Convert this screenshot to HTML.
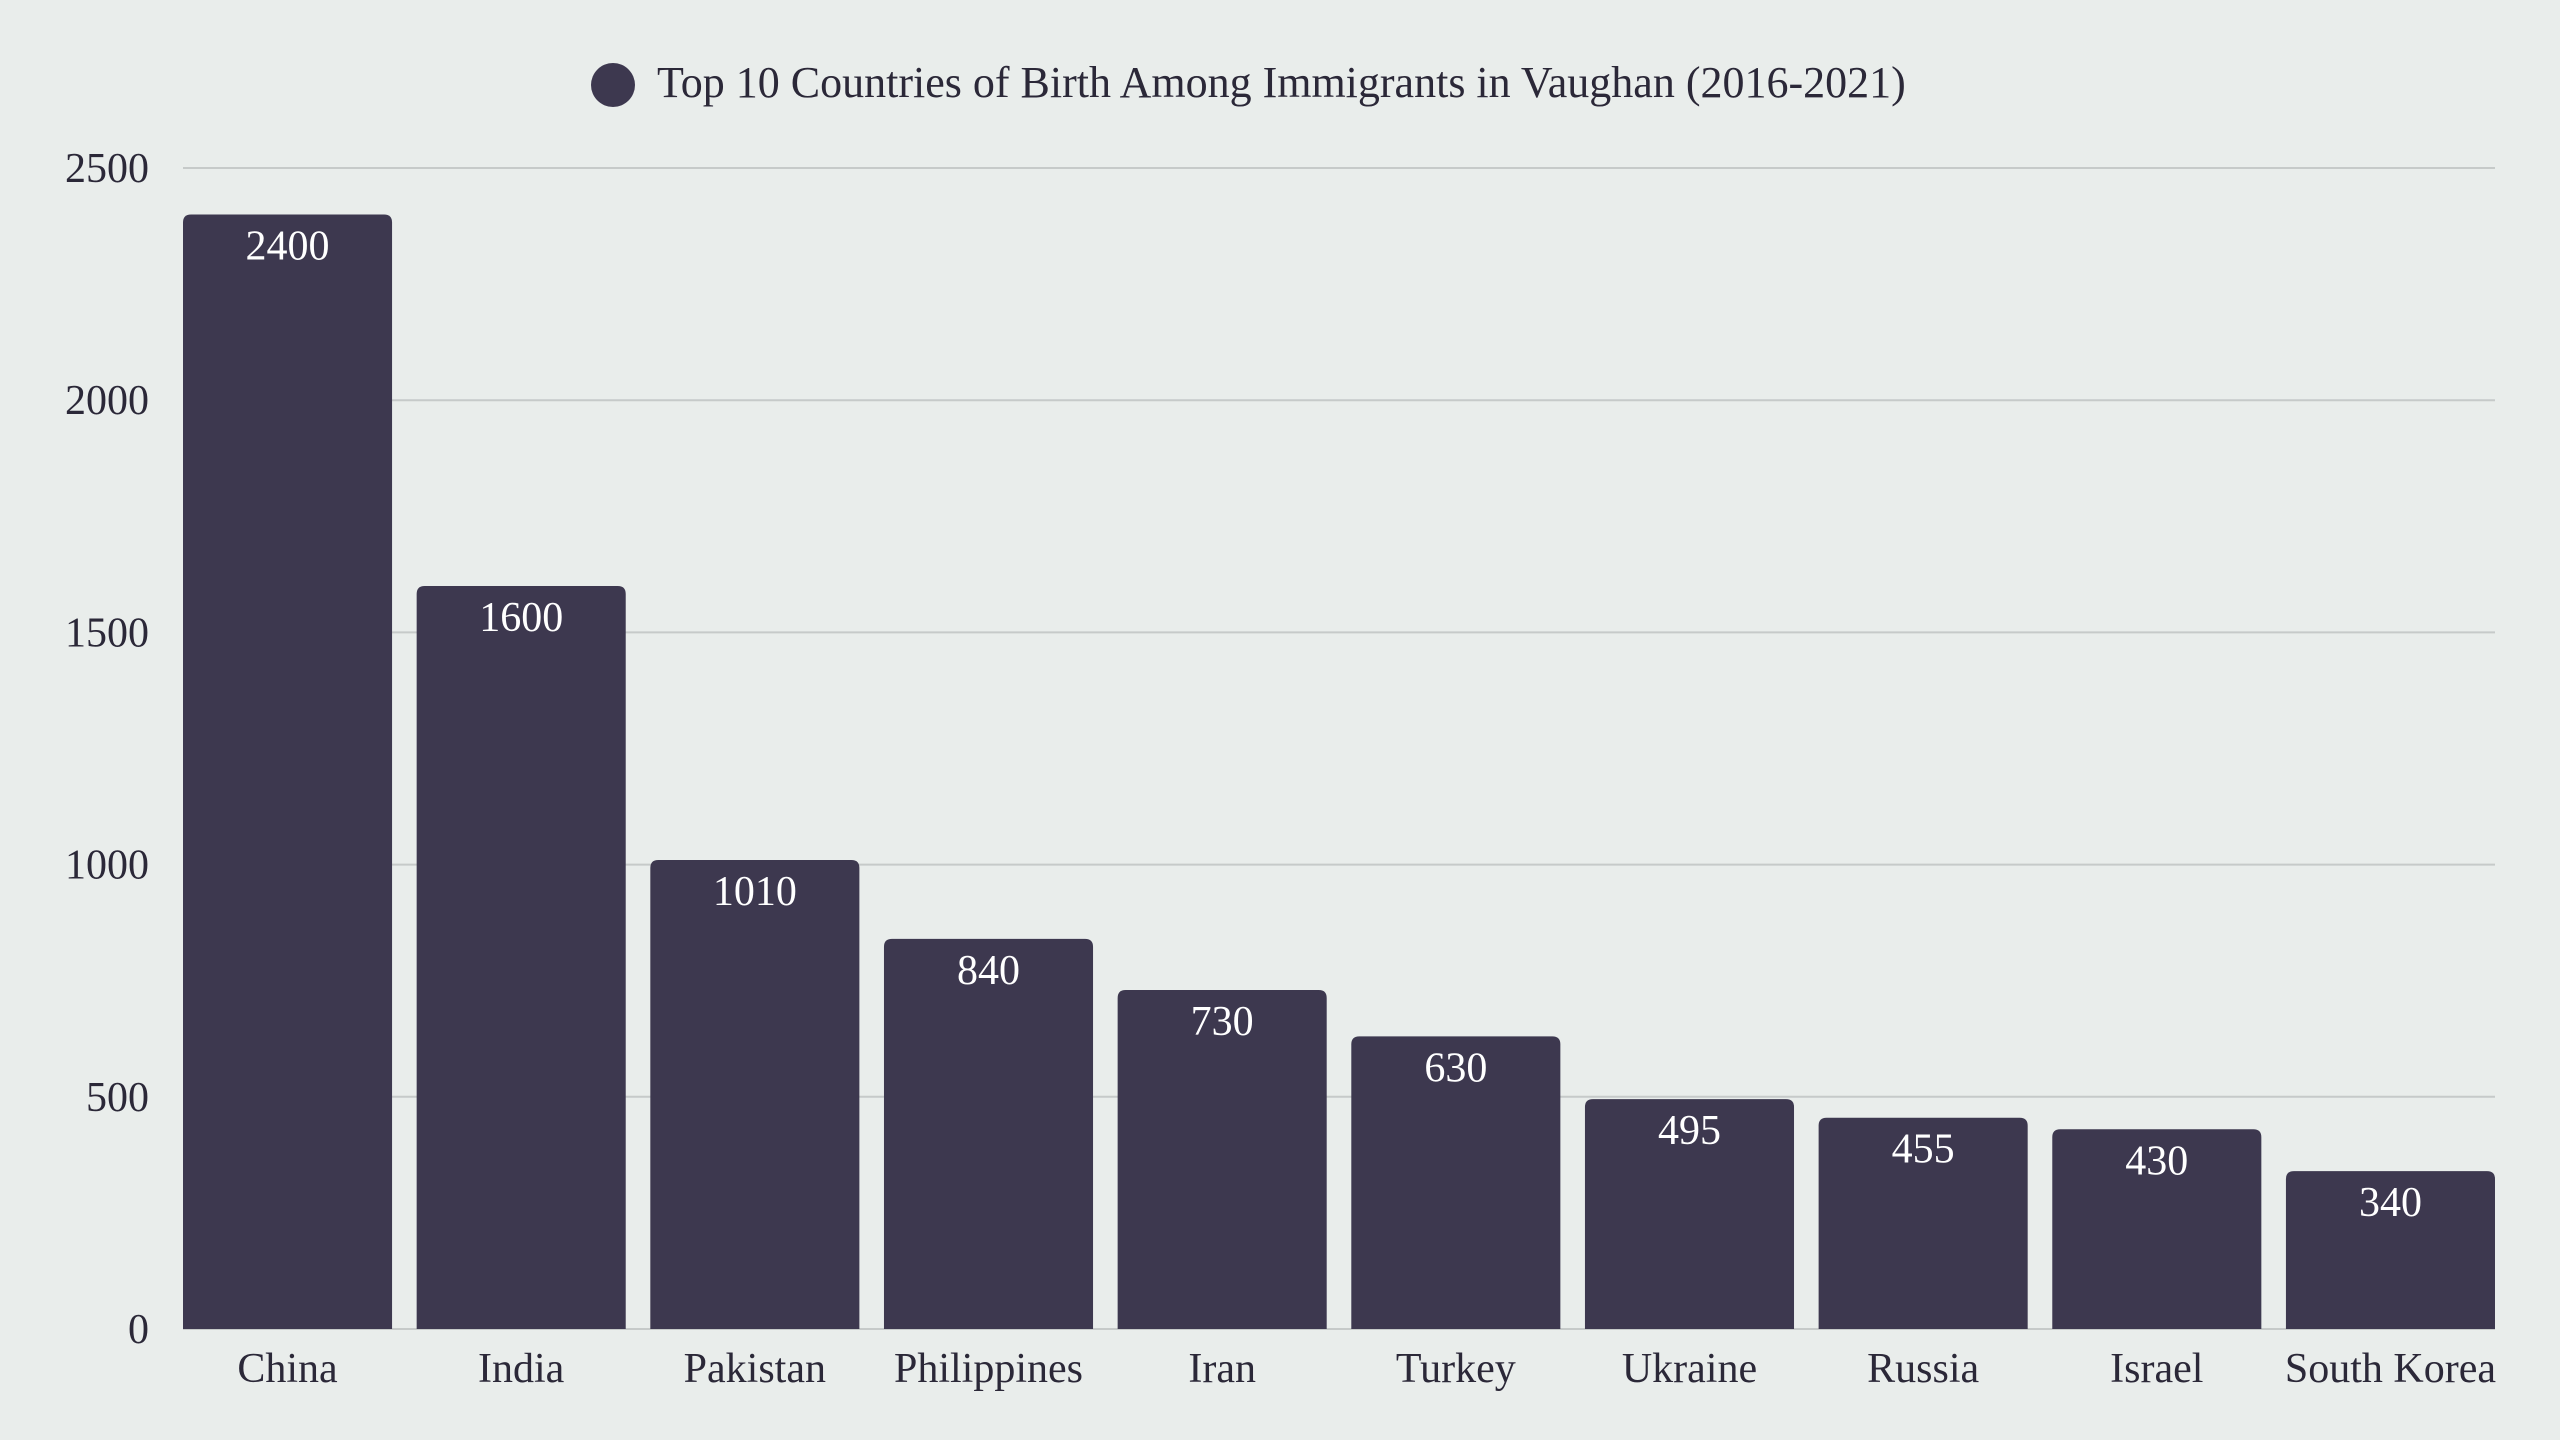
<!DOCTYPE html>
<html><head><meta charset="utf-8"><style>
html,body{margin:0;padding:0;background:#e9edeb;}
svg{display:block;font-family:"Liberation Serif",serif;}
</style></head><body>
<svg id="chart" width="2560" height="1440" viewBox="0 0 2560 1440">
<rect width="2560" height="1440" fill="#e9edeb"/>
<g id="legend">
<circle cx="613" cy="85" r="22" fill="#3d384f"/>
<text x="657" y="97" font-size="44" fill="#2b2838">Top 10 Countries of Birth Among Immigrants in Vaughan (2016-2021)</text>
</g>
<g id="grid"></g><g id="yticks"></g><g id="bars"></g><g id="xticks"></g>
</svg>
<script>
const categories=["China","India","Pakistan","Philippines","Iran","Turkey","Ukraine","Russia","Israel","South Korea"];
const values=[2400,1600,1010,840,730,630,495,455,430,340];
const yTicks=[0,500,1000,1500,2000,2500];
const NS="http://www.w3.org/2000/svg";
const x0=183,x1=2495,yBase=1329,yTop=168,yMax=2500;
const step=(x1-x0+24.6)/categories.length,bw=step-24.6;
function y(v){return yBase-(v/yMax)*(yBase-yTop);}
function xb(i){return x0+i*step;}
function mk(t,a,p){const e=document.createElementNS(NS,t);for(const k in a)e.setAttribute(k,a[k]);p.appendChild(e);return e;}
const g=document.getElementById('grid'),yt=document.getElementById('yticks'),b=document.getElementById('bars'),xt=document.getElementById('xticks');
yTicks.forEach(v=>{
 if(v>0){const l=mk('line',{x1:x0,x2:x1,y1:y(v),y2:y(v),stroke:'#c6cac9','stroke-width':2},g);
 
 }
 const t=mk('text',{x:149,y:y(v)+14,'text-anchor':'end','font-size':42,fill:'#2b2838'},yt);
 t.textContent=v;
 
 
});
mk('line',{x1:x0,x2:x1,y1:yBase,y2:yBase,stroke:'#c6cac9','stroke-width':2},g);
categories.forEach((c,i)=>{
 const top=y(values[i]),h=yBase-top,r=8;
 const p=mk('path',{d:`M${xb(i)},${yBase}V${top+r}Q${xb(i)},${top} ${xb(i)+r},${top}H${xb(i)+bw-r}Q${xb(i)+bw},${top} ${xb(i)+bw},${top+r}V${yBase}Z`,fill:'#3d384f'},b);
 
 
 const vl=mk('text',{x:xb(i)+bw/2,y:top+45,'text-anchor':'middle','font-size':42,fill:'#ffffff'},b);
 vl.textContent=values[i];
 
 
 const t=mk('text',{x:xb(i)+bw/2,y:1382,'text-anchor':'middle','font-size':42,fill:'#2b2838'},xt);
 t.textContent=c;
 
 
});
</script>
</body></html>
